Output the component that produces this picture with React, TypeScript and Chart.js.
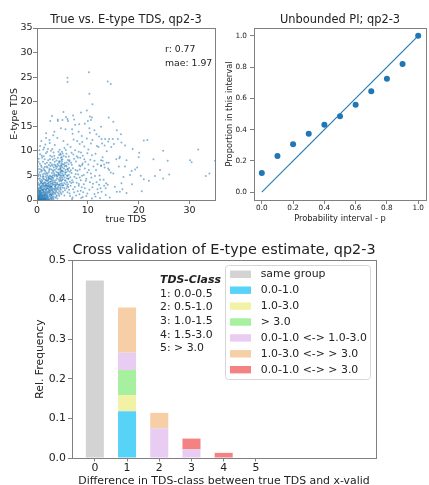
import React, { useEffect, useRef } from 'react';
import { Chart, registerables } from 'chart.js';

Chart.register(...registerables);

// ---------------- data: scatter (true TDS, E-type TDS) ----------------
const tdsPairs: number[][] = [
  [0.1,0.2],[0.2,0.5],[0.3,0.1],[0.4,0.8],[0.5,0.3],[0.6,1.2],[0.7,0.6],[0.8,0.1],[0.9,1.6],[1.0,0.4],
  [1.1,0.9],[1.2,2.1],[1.3,0.2],[1.4,1.3],[1.5,0.7],[1.6,2.6],[1.7,1.1],[1.8,0.3],[1.9,1.8],[2.0,0.9],
  [2.1,2.4],[2.2,0.5],[2.3,1.5],[2.4,3.1],[2.5,0.8],[2.6,2.0],[2.7,1.2],[2.8,0.4],[2.9,2.7],[3.0,1.6],
  [0.15,1.4],[0.25,2.2],[0.35,0.6],[0.45,3.0],[0.55,1.9],[0.65,0.2],[0.75,2.8],[0.85,1.0],[0.95,3.4],[1.05,2.5],
  [1.15,0.1],[1.25,3.2],[1.35,1.7],[1.45,0.4],[1.55,3.6],[1.65,1.4],[1.75,2.9],[1.85,0.6],[1.95,3.8],[2.05,1.3],
  [2.15,0.2],[2.25,2.8],[2.35,3.6],[2.45,1.9],[2.55,0.3],[2.65,3.3],[2.75,2.3],[2.85,1.0],[2.95,3.9],[3.05,0.6],
  [0.05,0.7],[0.1,2.6],[0.2,3.5],[0.3,1.8],[0.4,0.05],[0.5,2.4],[0.6,3.9],[0.7,1.5],[0.8,2.3],[0.9,0.5],
  [1.0,3.0],[1.1,1.9],[1.2,0.6],[1.3,2.7],[1.4,4.2],[1.5,1.1],[1.6,0.2],[1.7,3.4],[1.8,2.2],[1.9,4.5],
  [2.0,2.9],[2.1,1.6],[2.2,4.1],[2.3,0.1],[2.4,2.2],[2.5,4.4],[2.6,1.1],[2.7,3.7],[2.8,2.6],[2.9,0.9],
  [3.1,2.4],[3.2,0.3],[3.3,3.1],[3.4,1.4],[3.5,2.0],[0.3,4.3],[0.7,4.8],[1.1,5.2],[0.5,5.6],[0.9,4.1],
  [0.1,0.05],[0.2,0.9],[0.3,0.4],[0.35,1.1],[0.45,0.15],[0.55,0.6],[0.6,0.9],[0.7,0.3],[0.8,1.3],[0.9,0.2],
  [1.0,0.7],[1.05,1.2],[1.2,0.3],[1.3,1.0],[1.4,0.1],[1.5,0.5],[1.6,1.0],[1.7,0.5],[1.8,1.5],[1.9,0.2],
  [0.15,0.3],[0.25,1.7],[0.4,1.5],[0.65,1.8],[0.05,1.1],[0.12,2.0],[0.22,0.05],[0.5,0.05],[0.75,0.05],[1.0,0.05],
  [1.3,0.05],[1.6,0.08],[2.0,0.1],[2.4,0.05],[2.8,0.1],[3.2,0.05],[0.02,0.3],[0.03,1.6],[0.02,2.9],[0.04,3.8],
  [0.12,0.45],[0.28,0.75],[0.42,1.25],[0.58,0.35],[0.72,1.05],[0.88,0.65],[1.02,1.45],[1.18,0.85],[1.32,1.55],[1.48,0.25],
  [1.62,1.75],[1.78,0.85],[1.92,2.35],[2.08,0.55],[2.22,1.85],[2.38,1.05],[2.52,2.55],[2.68,0.65],[2.82,1.95],[2.98,1.25],
  [0.18,2.45],[0.32,3.15],[0.48,2.05],[0.62,2.65],[0.78,3.55],[0.92,2.15],[1.08,3.85],[1.22,2.95],[1.38,3.45],[1.52,2.25],
  [1.68,4.05],[1.82,3.15],[1.98,2.55],[2.12,3.95],[2.28,4.75],[2.42,2.65],[2.58,3.75],[2.72,4.25],[2.88,3.35],[3.02,4.65],
  [3.18,1.15],[3.32,2.25],[3.48,3.65],[3.62,0.45],[3.78,1.85],[3.92,3.25],[4.08,1.45],[4.22,4.15],[4.38,0.85],[4.52,2.35],
  [0.25,5.2],[0.55,4.4],[0.85,5.8],[1.15,4.7],[1.45,6.1],[1.75,5.3],[2.05,6.6],[2.35,5.7],[2.65,6.9],[2.95,4.2],
  [0.52,1.62],[0.68,2.42],[0.84,0.92],[1.02,2.02],[1.16,3.42],[1.34,2.22],[1.46,0.82],[1.64,3.02],[1.76,2.02],[1.94,1.12],
  [2.06,3.32],[2.24,2.22],[2.36,4.32],[2.54,1.52],[2.66,2.92],[2.84,4.72],[2.96,2.12],[3.14,3.62],[3.26,1.62],[3.44,4.82],
  [3.56,2.22],[3.74,3.02],[3.86,4.92],[4.04,2.42],[4.16,5.22],[4.34,3.12],[4.46,4.52],[4.64,1.52],[4.76,6.02],[4.94,4.02],
  [5.06,3.02],[5.24,4.92],[5.36,2.42],[5.54,5.62],[5.66,3.22],[5.84,4.42],[5.96,6.32],[6.14,2.62],[6.26,5.12],[6.44,3.72],
  [0.62,3.32],[1.28,4.82],[1.86,5.62],[2.48,6.42],[3.08,5.02],[3.68,6.82],[4.28,7.82],[4.88,8.72],[5.48,7.52],[6.08,8.12],
  [0.3,0.3],[0.5,0.9],[0.7,1.9],[0.9,2.7],[1.1,0.3],[1.3,1.9],[1.5,2.9],[1.7,0.1],[1.9,2.9],[2.1,0.7],
  [2.3,2.9],[2.5,1.7],[2.7,2.7],[2.9,0.3],[3.1,3.3],[3.3,0.7],[3.5,2.7],[3.7,1.6],[3.9,0.9],[4.1,3.1],
  [3.2,4.5],[3.4,5.1],[3.6,2.8],[3.8,0.7],[4.0,3.5],[4.2,6.2],[4.4,1.8],[4.6,4.9],[4.8,7.4],[5.0,2.5],
  [5.2,5.8],[5.4,0.9],[5.6,3.9],[5.8,6.8],[6.0,1.6],[6.2,4.4],[6.4,8.1],[6.6,2.9],[6.8,5.5],[7.0,0.5],
  [3.3,6.6],[3.5,7.8],[3.7,4.0],[3.9,2.2],[4.1,8.6],[4.3,5.5],[4.5,3.0],[4.7,9.2],[4.9,6.0],[5.1,4.2],
  [5.3,7.2],[5.5,2.0],[5.7,8.8],[5.9,5.0],[6.1,3.2],[6.3,6.5],[6.5,0.8],[6.7,7.6],[6.9,4.0],[7.1,2.2],
  [3.1,8.2],[3.4,9.0],[3.6,1.2],[3.8,5.7],[4.0,0.3],[4.2,7.0],[4.4,3.8],[4.6,6.3],[4.8,1.2],[5.0,8.3],
  [4.5,5.2],[4.6,5.8],[4.7,4.4],[4.8,6.9],[4.9,3.4],[5.0,5.4],[4.5,7.9],[4.6,2.6],[4.7,8.6],[4.9,9.8],
  [2.1,5.4],[2.4,6.1],[2.7,4.8],[2.9,7.3],[1.6,5.9],[1.9,6.8],[2.2,8.1],[2.6,9.0],[1.3,6.4],[0.8,7.0],
  [3.0,10.4],[3.5,11.2],[4.2,9.8],[5.4,10.6],[5.8,9.4],[6.0,11.3],[6.8,9.6],[7.3,8.4],[7.6,6.1],[7.8,3.5],
  [8.1,5.2],[8.3,7.0],[8.0,1.8],[8.6,4.0],[8.8,2.6],[7.5,10.1],[6.6,10.8],[5.2,12.0],[4.0,12.6],[3.2,13.2],
  [1.4,10.7],[2.0,9.8],[1.0,8.6],[0.6,9.3],[2.5,11.6],[1.8,12.6],[7.2,12.3],[8.4,11.4],[9.0,9.0],[9.4,6.4],
  [2.2,3.4],[2.5,5.0],[2.8,6.2],[3.0,3.0],[3.2,5.8],[3.4,7.2],[3.6,3.5],[3.8,6.4],[4.0,4.8],[4.2,2.7],
  [4.4,7.6],[4.6,3.3],[4.8,5.0],[5.0,6.6],[5.2,3.0],[5.4,4.6],[5.6,6.1],[5.8,2.4],[6.0,4.9],[6.2,7.3],
  [2.3,4.6],[2.6,7.6],[2.9,5.5],[3.1,1.9],[3.3,4.0],[3.5,6.1],[3.7,2.5],[3.9,4.4],[4.1,5.6],[4.3,1.2],
  [4.5,6.8],[4.7,2.1],[4.9,7.8],[5.1,1.7],[5.3,6.4],[5.5,4.0],[5.7,7.0],[5.9,3.6],[6.1,5.9],[6.3,2.1],
  [3.15,6.05],[3.45,8.45],[3.75,5.15],[4.05,7.35],[4.35,9.15],[4.65,5.55],[4.95,4.65],[5.25,8.95],[5.55,5.25],[5.85,7.65],
  [6.15,4.25],[6.45,5.75],[6.75,3.45],[7.05,6.45],[7.35,4.75],[7.65,7.85],[7.95,5.95],[8.25,3.25],[8.55,6.85],[8.85,4.95],
  [3.25,9.65],[3.55,3.15],[3.85,8.05],[4.15,2.15],[4.45,10.25],[4.75,3.85],[5.05,9.45],[5.35,3.45],[5.65,10.15],[5.95,2.85],
  [6.25,8.85],[6.55,4.65],[6.85,7.15],[7.15,9.25],[7.45,2.65],[7.75,4.45],[8.05,8.65],[8.35,1.15],[8.65,9.65],[8.95,7.45],
  [4.55,4.05],[4.65,6.55],[4.75,7.05],[4.85,8.15],[4.55,9.45],[4.95,5.85],[5.05,7.25],[4.45,6.25],[5.15,5.05],[4.85,2.95],
  [6.05,6.25],[6.35,7.85],[6.65,6.05],[5.45,6.85],[5.75,5.65],[3.65,7.05],[3.95,6.75],[4.25,5.05],[3.35,5.45],[3.05,6.95],
  [0.2,4.9],[0.4,6.3],[0.6,5.1],[0.8,3.7],[1.0,6.0],[1.2,4.4],[1.4,5.4],[1.6,7.4],[1.8,4.0],[2.0,5.0],
  [0.3,7.8],[0.9,6.7],[1.5,8.3],[1.7,4.8],[0.1,5.9],[0.6,11.0],
  [0.15,6.8],[0.35,8.4],[0.55,7.4],[0.75,6.2],[0.95,9.0],[1.15,7.8],[1.35,8.9],[1.55,6.7],[1.75,9.5],[1.95,7.6],
  [2.15,10.4],[2.35,7.1],[2.55,8.3],[2.75,10.0],[2.95,8.8],[0.45,10.1],[1.25,10.3],[2.45,12.2],[0.85,12.0],[1.65,11.3],
  [6.4,1.3],[6.9,0.2],[7.3,1.6],[7.7,0.9],[8.2,2.9],[8.6,1.9],[9.0,0.6],[9.4,2.4],[9.9,1.3],[10.4,3.6],
  [10.9,2.6],[11.5,0.7],[11.9,2.2],[12.4,0.4],[7.1,3.6],[7.6,5.3],[8.4,4.6],[9.2,5.1],[9.7,4.3],[10.1,7.2],
  [10.6,5.4],[11.0,3.3],[11.6,6.1],[12.2,3.1],[9.3,8.3],[9.9,9.5],[10.8,9.1],[11.3,8.0],[7.8,8.9],[8.9,7.1],
  [8.2,9.8],[8.5,8.6],[8.9,11.8],[9.2,3.2],[9.5,7.8],[9.7,0.8],[9.9,5.6],[10.1,10.3],[10.3,2.1],[10.5,8.2],
  [10.7,4.6],[10.9,12.2],[11.1,6.8],[11.3,1.2],[11.5,9.4],[11.7,3.6],[11.9,7.3],[12.1,10.8],[12.3,5.0],[12.5,2.4],
  [12.7,12.4],[12.9,8.0],[13.1,4.1],[13.3,6.6],[13.5,1.0],[13.7,9.9],[13.9,3.1],[14.1,7.6],[14.3,0.5],[14.5,5.6],
  [8.7,0.4],[9.1,1.6],[9.6,3.9],[10.2,6.1],[10.8,0.3],[11.4,4.9],[12.0,1.5],[12.6,7.0],[13.2,2.9],[8.4,6.2],
  [9.3,10.9],[10.6,11.5],[11.8,11.0],[12.2,12.9],[14.0,11.9],[14.6,10.8],[7.9,12.0],[8.8,13.0],[9.8,12.5],[7.0,13.5],
  [12.9,8.7],[12.6,8.1],[13.7,7.6],[13.2,7.2],[12.6,6.9],[14.0,6.4],[14.2,6.1],[12.4,4.1],[13.6,3.4],[13.5,2.4],[12.7,1.7],
  [10.2,26.0],[6.0,24.9],[6.0,24.0],[13.9,24.1],[14.5,23.6],[10.3,21.6],[10.9,19.5],[9.8,18.2],[5.2,17.9],[8.65,17.8],
  [7.1,17.2],[10.4,17.0],[14.1,16.8],[2.95,17.1],[2.6,16.1],[4.1,16.4],[4.1,16.1],[5.0,16.3],[5.7,16.9],[6.0,16.5],
  [6.1,16.1],[7.3,16.4],[10.0,16.1],[10.6,16.3],[10.8,16.8],[15.0,15.9],[1.8,13.6],[4.7,14.6],[5.6,14.4],[6.9,14.4],
  [7.5,15.3],[8.3,15.4],[9.4,15.5],[10.3,14.6],[11.3,14.2],[12.6,14.9],[15.7,14.2],[16.5,13.4],[8.2,13.9],[10.4,13.7],
  [11.7,13.4],[3.4,13.9],[13.4,12.4],[14.2,12.4],[14.9,12.4],[15.9,12.4],[16.6,11.7],
  [17.3,11.1],[15.1,11.4],[12.8,11.5],[13.3,11.1],[21.0,12.1],[21.7,12.2],[18.8,10.4],[20.1,9.6],[24.8,10.0],[31.7,10.3],
  [30.1,8.1],[30.4,7.7],[35.0,8.0],[22.9,8.3],[25.7,8.0],[16.3,8.8],[16.2,8.5],[15.6,8.3],[17.6,8.1],[16.1,6.8],
  [17.3,6.8],[19.7,6.6],[24.2,6.1],[26.0,5.2],[23.2,4.9],[24.8,4.4],[18.6,5.9],[18.3,5.1],[20.4,4.95],[21.0,4.2],
  [22.0,3.9],[33.2,4.9],[33.9,5.4],[15.0,5.4],[17.0,4.7],[16.6,3.4],[16.8,2.2],[15.3,2.7],[15.7,1.7],[16.3,1.7],
  [17.6,1.4],[20.6,1.8],[18.7,3.2],[19.3,6.2],[20.0,8.7],
];
const scatterXTicks = [0, 10, 20, 30];
const scatterYTicks = [0, 5, 10, 15, 20, 25, 30, 35];
const scatterStats = ['r: 0.77', 'mae: 1.97'];

// ---------------- data: prediction interval accuracy ----------------
const piLevels = [0.0, 0.1, 0.2, 0.3, 0.4, 0.5, 0.6, 0.7, 0.8, 0.9, 1.0];
const piProportions = [0.122, 0.231, 0.306, 0.373, 0.431, 0.486, 0.559, 0.645, 0.726, 0.82, 1.0];
const piRefLine = [0, 1];
const piTicks = [0.0, 0.2, 0.4, 0.6, 0.8, 1.0];

// ---------------- data: cross validation bars ----------------
const classDiffs = [0, 1, 2, 3, 4, 5];
const seriesLabels = [
  'same group',
  '0.0-1.0',
  '1.0-3.0',
  '> 3.0',
  '0.0-1.0 <-> 1.0-3.0',
  '1.0-3.0 <-> > 3.0',
  '0.0-1.0 <-> > 3.0',
];
const sameGroup = [0.448, 0, 0, 0, 0, 0];
const within00to10 = [0, 0.118, 0, 0, 0, 0];
const within10to30 = [0, 0.041, 0, 0, 0, 0];
const withinOver30 = [0, 0.063, 0, 0, 0, 0];
const cross00to10_10to30 = [0, 0.044, 0.075, 0.022, 0, 0];
const cross10to30_over30 = [0, 0.114, 0.039, 0, 0, 0];
const cross00to10_over30 = [0, 0, 0, 0.027, 0.013, 0];
const seriesValues = [sameGroup, within00to10, within10to30, withinOver30, cross00to10_10to30, cross10to30_over30, cross00to10_over30];
const seriesColors = ['#d3d3d3', '#57d3f7', '#f2f2a6', '#a6f0a0', '#e8ccf2', '#f6cfa6', '#f48282'];
const freqTicks = [0.0, 0.1, 0.2, 0.3, 0.4, 0.5];
const tdsClassTitle = 'TDS-Class';
const tdsClassLines = ['1: 0.0-0.5', '2: 0.5-1.0', '3: 1.0-1.5', '4: 1.5-3.0', '5: > 3.0'];

// ---------------- styles ----------------
const FONT = "'DejaVu Sans', 'Liberation Sans', sans-serif";
const INK = '#222222';
const SPINE = '#808080';
const C0 = '#1f77b4';

const al = (v: number) => Math.round(v - 0.5) + 0.5;

const framePlugin = {
  id: 'frame',
  afterDatasetsDraw(chart: any) {
    const { ctx, chartArea: a } = chart;
    ctx.save();
    ctx.strokeStyle = SPINE;
    ctx.lineWidth = 1;
    const l = al(a.left), t = al(a.top), r = al(a.right), b = al(a.bottom);
    ctx.strokeRect(l, t, r - l, b - t);
    ctx.restore();
  },
};

function titlePlugin(text: string, size: number, above: number) {
  return {
    id: 'areaTitle',
    afterDraw(chart: any) {
      const { ctx, chartArea: a } = chart;
      ctx.save();
      ctx.fillStyle = INK;
      ctx.font = `${size}px ${FONT}`;
      ctx.textAlign = 'center';
      ctx.textBaseline = 'middle';
      ctx.fillText(text, (a.left + a.right) / 2, a.top - above);
      ctx.restore();
    },
  };
}

function linAxis(o: {
  min: number; max: number; ticks: number[]; fmt: (v: number) => string; size: number;
  tickFont: number; tickPad: number; tickLen?: number; title: string; titleFont: number; titlePad: any;
}) {
  return {
    type: 'linear',
    min: o.min,
    max: o.max,
    offset: false,
    afterBuildTicks: (s: any) => { s.ticks = o.ticks.map((v) => ({ value: v })); },
    afterFit: (s: any) => { if (s.isHorizontal()) s.height = o.size; else s.width = o.size; },
    grid: { display: true, offset: false, drawOnChartArea: false, drawTicks: true, tickLength: o.tickLen ?? 4, color: SPINE, lineWidth: 1 },
    border: { display: false },
    ticks: {
      font: { family: FONT, size: o.tickFont }, color: INK, padding: o.tickPad,
      maxRotation: 0, minRotation: 0, autoSkip: false,
      callback: (v: any) => o.fmt(Number(v)),
    },
    title: { display: true, text: o.title, color: INK, font: { family: FONT, size: o.titleFont, lineHeight: 1.2 }, padding: o.titlePad },
  };
}

function baseOptions(padding: any) {
  return {
    responsive: false,
    maintainAspectRatio: false,
    animation: false,
    events: [],
    layout: { padding },
    plugins: {
      legend: { display: false },
      tooltip: { enabled: false },
      title: { display: false },
    },
  };
}

function useChart(make: (c: HTMLCanvasElement) => Chart) {
  const ref = useRef<HTMLCanvasElement | null>(null);
  useEffect(() => {
    if (!ref.current) return;
    const chart = make(ref.current);
    return () => chart.destroy();
  }, []);
  return ref;
}

function ScatterPanel() {
  const ref = useChart((c) => {
    const statsPlugin = {
      id: 'stats',
      afterDraw(chart: any) {
        const { ctx, chartArea: a } = chart;
        ctx.save();
        ctx.fillStyle = INK;
        ctx.font = `9.3px ${FONT}`;
        ctx.textAlign = 'left';
        ctx.textBaseline = 'middle';
        scatterStats.forEach((s, i) => ctx.fillText(s, a.left + 128, a.top + 22 + i * 14));
        ctx.restore();
      },
    };
    return new Chart(c, {
      type: 'scatter',
      data: {
        datasets: [{
          data: tdsPairs.map(([x, y]) => ({ x, y })),
          pointRadius: 1,
          pointBorderWidth: 0,
          borderWidth: 0,
          pointHoverRadius: 0,
          backgroundColor: 'rgba(31,119,180,0.55)',
        }],
      },
      options: {
        ...baseOptions({ left: 0, right: 7, top: 28, bottom: 0 }),
        scales: {
          x: linAxis({ min: 0, max: 35, ticks: scatterXTicks, fmt: (v) => String(v), size: 30, tickFont: 9.5, tickPad: 0.5,
            title: 'true TDS', titleFont: 9.3, titlePad: { top: 0, bottom: 4.4 } }),
          y: linAxis({ min: 0, max: 35, ticks: scatterYTicks, fmt: (v) => String(v), size: 37, tickFont: 9.5, tickPad: 0.5,
            title: 'E-type TDS', titleFont: 9.3, titlePad: { top: 8.9, bottom: 0 } }),
        },
      } as any,
      plugins: [framePlugin, statsPlugin, titlePlugin('True vs. E-type TDS, qp2-3', 11.4, 8)],
    });
  });
  return <canvas ref={ref} width={222} height={230} style={{ position: 'absolute', left: 0, top: 0, width: 222, height: 230 }} />;
}

function PIPanel() {
  const ref = useChart((c) => new Chart(c, {
    type: 'scatter',
    data: {
      datasets: [
        {
          data: piRefLine.map((v) => ({ x: v, y: v })),
          showLine: true,
          borderColor: C0,
          borderWidth: 1.1,
          pointRadius: 0,
          pointHoverRadius: 0,
          fill: false,
        },
        {
          data: piLevels.map((p, i) => ({ x: p, y: piProportions[i] })),
          pointRadius: 3,
          pointBorderWidth: 0,
          borderWidth: 0,
          pointHoverRadius: 0,
          backgroundColor: C0,
        },
      ],
    },
    options: {
      ...baseOptions({ left: 0, right: 1, top: 28, bottom: 0 }),
      scales: {
        x: linAxis({ min: -0.05, max: 1.05, ticks: piTicks, fmt: (v) => v.toFixed(1), size: 30, tickFont: 7.3, tickPad: 0,
          title: 'Probability interval - p', titleFont: 8.3, titlePad: { top: 0, bottom: 6 } }),
        y: linAxis({ min: -0.05, max: 1.05, ticks: piTicks, fmt: (v) => v.toFixed(1), size: 39, tickFont: 7.3, tickPad: 3,
          title: 'Proportion in this interval', titleFont: 8.3, titlePad: { top: 10, bottom: 0 } }),
      },
    } as any,
    plugins: [framePlugin, titlePlugin('Unbounded PI; qp2-3', 11.4, 8)],
  }));
  return <canvas ref={ref} width={214} height={230} style={{ position: 'absolute', left: 215, top: 0, width: 214, height: 230 }} />;
}

function BarPanel() {
  const ref = useChart((c) => {
    const legendPlugin = {
      id: 'boxLegend',
      afterDraw(chart: any) {
        const { ctx, chartArea: a } = chart;
        const ds = chart.data.datasets;
        ctx.save();
        ctx.fillStyle = INK;
        ctx.textAlign = 'left';
        ctx.textBaseline = 'middle';
        const tx = a.left + 88;
        ctx.font = `italic bold 10.9px ${FONT}`;
        ctx.fillText(tdsClassTitle, tx, a.top + 20);
        ctx.font = `10.9px ${FONT}`;
        tdsClassLines.forEach((s, i) => ctx.fillText(s, tx, a.top + 20 + (i + 1) * 13.7));
        const r = a.right - 5.3;
        const l = r - 145.4;
        const t = a.top + 5.7;
        const h = 114.3;
        ctx.beginPath();
        (ctx as any).roundRect(al(l), al(t), Math.round(r - l), Math.round(h), 3);
        ctx.fillStyle = 'rgba(255,255,255,0.85)';
        ctx.fill();
        ctx.strokeStyle = '#d6d6d6';
        ctx.lineWidth = 1;
        ctx.stroke();
        ctx.font = `10.9px ${FONT}`;
        ds.forEach((d: any, i: number) => {
          const cy = t + 8.6 + i * 15.9;
          ctx.fillStyle = d.backgroundColor;
          ctx.fillRect(l + 4.7, cy - 3.7, 21, 7.4);
          ctx.fillStyle = INK;
          ctx.fillText(d.label, l + 35.4, cy);
        });
        ctx.restore();
      },
    };
    return new Chart(c, {
      type: 'bar',
      data: {
        datasets: seriesLabels.map((label, k) => ({
          label,
          data: classDiffs.map((x, i) => ({ x, y: seriesValues[k][i] })).filter((d) => d.y > 0),
          backgroundColor: seriesColors[k],
          borderWidth: 0,
          barPercentage: 0.56,
          categoryPercentage: 1,
        })),
      },
      options: {
        ...baseOptions({ left: 0, right: 53, top: 30, bottom: 0 }),
        scales: {
          x: {
            ...linAxis({ min: -0.71, max: 8.73, ticks: classDiffs, fmt: (v) => String(v), size: 34, tickFont: 10.9, tickPad: 0, tickLen: 3.5,
              title: 'Difference in TDS-class between true TDS and x-valid', titleFont: 10.9, titlePad: { top: 0, bottom: 3.9 } }),
            stacked: true,
          },
          y: {
            ...linAxis({ min: 0, max: 0.5, ticks: freqTicks, fmt: (v) => v.toFixed(1), size: 72, tickFont: 10.9, tickPad: 2,
              title: 'Rel. Frequency', titleFont: 10.8, titlePad: { top: 33.5, bottom: 0 } }),
            stacked: true,
          },
        },
      } as any,
      plugins: [framePlugin, legendPlugin, titlePlugin('Cross validation of E-type estimate, qp2-3', 14.4, 10)],
    });
  });
  return <canvas ref={ref} width={429} height={262} style={{ position: 'absolute', left: 0, top: 230, width: 429, height: 262 }} />;
}

export default function App() {
  return (
    <div style={{ position: 'absolute', left: 0, top: 0, width: 429, height: 485, overflow: 'hidden', background: '#ffffff' }}>
      <ScatterPanel />
      <PIPanel />
      <BarPanel />
    </div>
  );
}
